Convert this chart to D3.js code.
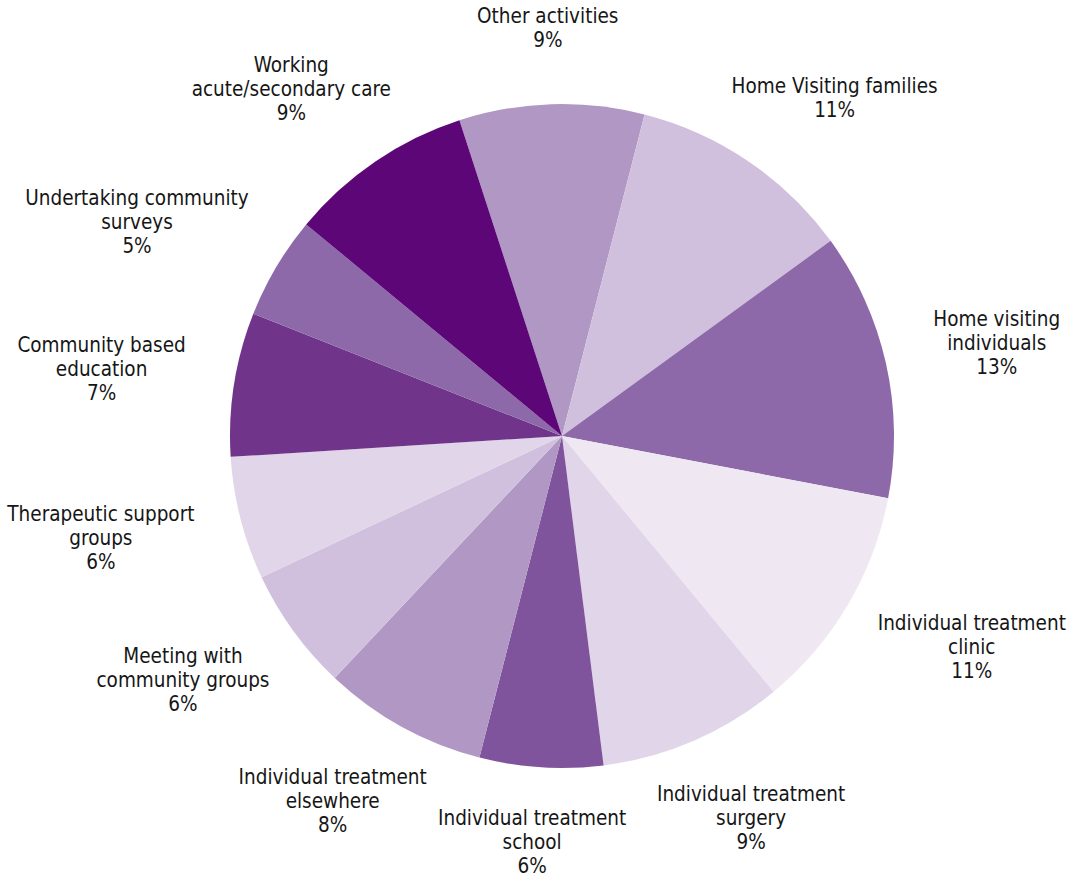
<!DOCTYPE html>
<html>
<head>
<meta charset="utf-8">
<script src="https://cdn.jsdelivr.net/npm/d3@7"></script>
<style>
  html, body { margin: 0; padding: 0; background: #ffffff; }
  svg { display: block; }
  .lbl { font-family: "DejaVu Sans Condensed", "DejaVu Sans", sans-serif; font-size: 20.5px; fill: #161616; }
</style>
</head>
<body>
<svg id="chart" width="1072" height="884"></svg>
<script>
// Share of time spent on each activity (per cent)
const categories = [
  "Other activities",
  "Home Visiting families",
  "Home visiting individuals",
  "Individual treatment clinic",
  "Individual treatment surgery",
  "Individual treatment school",
  "Individual treatment elsewhere",
  "Meeting with community groups",
  "Therapeutic support groups",
  "Community based education",
  "Undertaking community surveys",
  "Working acute/secondary care"
];
const values = [9, 11, 13, 11, 9, 6, 8, 6, 6, 7, 5, 9];

// Label text broken into lines
const labelLines = [
  ["Other activities"],
  ["Home Visiting families"],
  ["Home visiting", "individuals"],
  ["Individual treatment", "clinic"],
  ["Individual treatment", "surgery"],
  ["Individual treatment", "school"],
  ["Individual treatment", "elsewhere"],
  ["Meeting with", "community groups"],
  ["Therapeutic support", "groups"],
  ["Community based", "education"],
  ["Undertaking community", "surveys"],
  ["Working", "acute/secondary care"]
];

const colors = [
  "#b197c3", "#d1c0dd", "#8e69a9", "#efe8f3", "#e0d5e9", "#7f549c",
  "#b197c3", "#d1c0dd", "#e0d5e9", "#70358a", "#8e69a9", "#5c0677"
];

const W = 1072, H = 884;
const svg = d3.select("#chart");
const cx = 562, cy = 436, r = 332;
const startDeg = -18;
const lineH = 24;
const pad = 50;

const pie = d3.pie()
  .sort(null)
  .value(d => d)
  .startAngle(startDeg * Math.PI / 180)
  .endAngle((startDeg + 360) * Math.PI / 180);

const arcs = pie(values);
const arc = d3.arc().innerRadius(0).outerRadius(r);

const g = svg.append("g").attr("transform", `translate(${cx},${cy})`);

g.selectAll("path.slice")
  .data(arcs)
  .join("path")
  .attr("class", "slice")
  .attr("d", arc)
  .attr("fill", (d, i) => colors[i]);

// Labels sit just outside the rim, box edge facing the slice
const labels = g.selectAll("g.label")
  .data(arcs)
  .join("g")
  .attr("class", "label");

labels.each(function (d, i) {
  const lines = labelLines[i].concat([values[i] + "%"]);
  const sel = d3.select(this);
  const text = sel.append("text")
    .attr("class", "lbl")
    .attr("text-anchor", "middle");
  lines.forEach((t, k) => {
    text.append("tspan")
      .attr("x", 0)
      .attr("y", k * lineH)
      .text(t);
  });
  const bb = text.node().getBBox();
  const w = bb.width, h = lines.length * lineH;
  const a = (d.startAngle + d.endAngle) / 2;
  const s = Math.sin(a), c = -Math.cos(a);
  const px = (r + pad) * s, py = (r + pad) * c;
  let bx = px + s * w / 2;
  let by = py + c * h / 2;
  // keep the block inside the drawing area
  bx = Math.max(-cx + w / 2 + 4, Math.min(W - cx - w / 2 - 4, bx));
  by = Math.max(-cy + h / 2 + 2, Math.min(H - cy - h / 2 - 4, by));
  sel.attr("transform", `translate(${bx},${by - h / 2 + lineH * 0.72})`);
});
</script>
</body>
</html>
